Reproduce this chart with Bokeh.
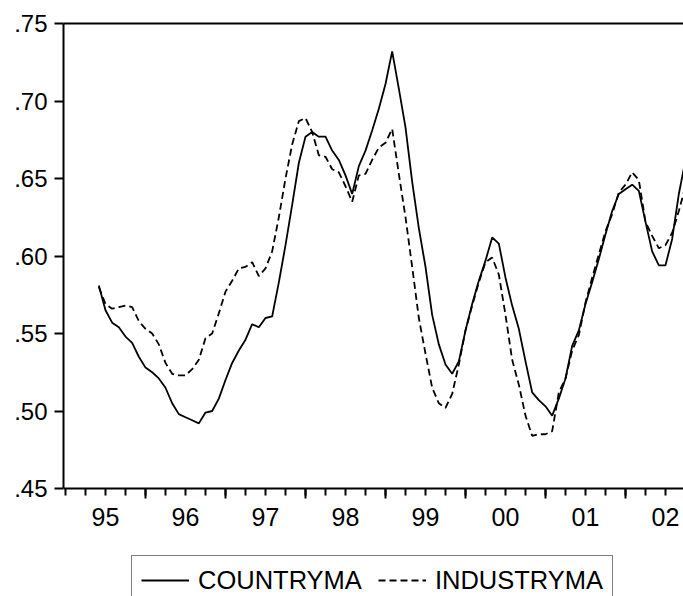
from bokeh.plotting import figure
from bokeh.models import Range1d, FixedTicker, LinearAxis, Legend, LegendItem
from bokeh.embed import file_html
from bokeh.resources import INLINE

# Monthly observations, first one is 1995M06 (month index 5 counted from 1995M01)
first_month_index = 5

countryma = [
    0.581, 0.565, 0.557, 0.554, 0.548, 0.544, 0.535, 0.528, 0.525, 0.521,
    0.515, 0.505, 0.498, 0.496, 0.494, 0.492, 0.499, 0.500, 0.508, 0.520,
    0.531, 0.539, 0.546, 0.556, 0.554, 0.560, 0.561, 0.583, 0.607, 0.633,
    0.660, 0.677, 0.680, 0.677, 0.677, 0.668, 0.662, 0.652, 0.640, 0.658,
    0.668, 0.681, 0.695, 0.711, 0.732, 0.708, 0.683, 0.648, 0.618, 0.593,
    0.562, 0.543, 0.530, 0.524, 0.532, 0.552, 0.569, 0.584, 0.597, 0.612,
    0.608, 0.586, 0.568, 0.553, 0.532, 0.512, 0.507, 0.503, 0.497, 0.508,
    0.521, 0.542, 0.552, 0.569, 0.583, 0.598, 0.614, 0.629, 0.640, 0.643,
    0.646, 0.642, 0.622, 0.603, 0.594, 0.594, 0.611, 0.640, 0.662,
]

industryma = [
    0.580, 0.569, 0.566, 0.567, 0.568, 0.567, 0.558, 0.553, 0.550, 0.543,
    0.531, 0.524, 0.523, 0.523, 0.527, 0.533, 0.547, 0.550, 0.563, 0.577,
    0.584, 0.592, 0.593, 0.596, 0.587, 0.592, 0.603, 0.625, 0.650, 0.672,
    0.687, 0.689, 0.680, 0.665, 0.664, 0.656, 0.654, 0.645, 0.635, 0.652,
    0.653, 0.662, 0.670, 0.673, 0.682, 0.653, 0.625, 0.593, 0.560, 0.537,
    0.515, 0.505, 0.502, 0.511, 0.530, 0.552, 0.568, 0.583, 0.596, 0.599,
    0.588, 0.562, 0.533, 0.517, 0.497, 0.484, 0.485, 0.485, 0.487, 0.512,
    0.521, 0.539, 0.549, 0.570, 0.586, 0.601, 0.616, 0.627, 0.641, 0.646,
    0.654, 0.649, 0.622, 0.613, 0.605, 0.607, 0.615, 0.629, 0.645,
]

year_labels = ["95", "96", "97", "98", "99", "00", "01", "02"]
y_ticks = [0.45, 0.50, 0.55, 0.60, 0.65, 0.70, 0.75]
y_tick_labels = [".45", ".50", ".55", ".60", ".65", ".70", ".75"]
series_names = ["COUNTRYMA", "INDUSTRYMA"]

months = [first_month_index + i for i in range(len(countryma))]
year_starts = [12 * i for i in range(1, len(year_labels))]
quarter_ticks = [3 * i for i in range(0, 31)]
label_pos = [12 * i + 6 for i in range(len(year_labels))]

FONT = "Liberation Sans"
Y_MIN, Y_MAX = y_ticks[0], y_ticks[-1]
# frame runs from 23px to the bottom of the canvas (596px); Y_MIN sits at 488px
px_per_unit = (488 - 23) / (Y_MAX - Y_MIN)
y_start = Y_MAX - (596 - 23) / px_per_unit

p = figure(width=683, height=596, output_backend="svg", toolbar_location=None,
           x_range=Range1d(-0.3, 92.7), y_range=Range1d(y_start, Y_MAX),
           min_border_left=63, min_border_right=0, min_border_top=23,
           min_border_bottom=0)
p.outline_line_color = None
p.xgrid.visible = False
p.ygrid.visible = False
p.background_fill_color = "white"
p.border_fill_color = "white"

r1 = p.line(months, countryma, line_color="black", line_width=1.8)
r2 = p.line(months, industryma, line_color="black", line_width=1.8, line_dash="7 4")

# x axis: ticks only (labels not drawn), fixed at Y_MIN
xa = p.xaxis[0]
xa.fixed_location = Y_MIN
xa.ticker = FixedTicker(ticks=year_starts, minor_ticks=quarter_ticks)
xa.axis_line_width = 2
xa.major_tick_line_width = 2
xa.minor_tick_line_width = 2
xa.major_tick_in = 0
xa.major_tick_out = 10
xa.minor_tick_in = 0
xa.minor_tick_out = 7
xa.major_label_text_color = None
xa.major_label_text_font_size = "0px"
xa.major_label_standoff = 0

# x axis labels centred in each year
xl = LinearAxis(ticker=FixedTicker(ticks=label_pos), fixed_location=Y_MIN,
                major_label_overrides={pos: lab for pos, lab in zip(label_pos, year_labels)})
xl.axis_line_color = None
xl.major_tick_line_color = None
xl.minor_tick_line_color = None
xl.major_tick_out = 0
xl.major_tick_in = 0
xl.major_label_standoff = 19
xl.major_label_text_font = FONT
xl.major_label_text_font_size = "25px"
xl.major_label_text_color = "black"
p.add_layout(xl, "below")

# y axis
ya = p.yaxis[0]
ya.bounds = (Y_MIN, Y_MAX)
ya.ticker = FixedTicker(ticks=y_ticks)
ya.major_label_overrides = {t: l for t, l in zip(y_ticks, y_tick_labels)}
ya.axis_line_width = 2
ya.major_tick_line_width = 2
ya.major_tick_in = 0
ya.major_tick_out = 9
ya.minor_tick_line_color = None
ya.major_label_standoff = 7
ya.major_label_text_font = FONT
ya.major_label_text_font_size = "24px"
ya.major_label_text_color = "black"

# top frame line
ta = LinearAxis(ticker=FixedTicker(ticks=[]))
ta.axis_line_width = 2
ta.major_tick_line_color = None
ta.minor_tick_line_color = None
ta.major_tick_out = 0
ta.major_tick_in = 0
ta.major_label_standoff = 0
ta.major_label_text_color = None
p.add_layout(ta, "above")

legend = Legend(items=[LegendItem(label=series_names[0], renderers=[r1]),
                       LegendItem(label=series_names[1], renderers=[r2])],
                orientation="horizontal", location=(68, -9),
                glyph_width=48, glyph_height=30, label_height=30,
                label_standoff=9, spacing=16, padding=9, margin=0,
                border_line_color="black", border_line_width=1.5,
                label_text_font=FONT, label_text_font_size="25.5px",
                label_text_color="black",
                background_fill_color="white", background_fill_alpha=1)
p.add_layout(legend)

open("out.html", "w").write(file_html(p, INLINE))
